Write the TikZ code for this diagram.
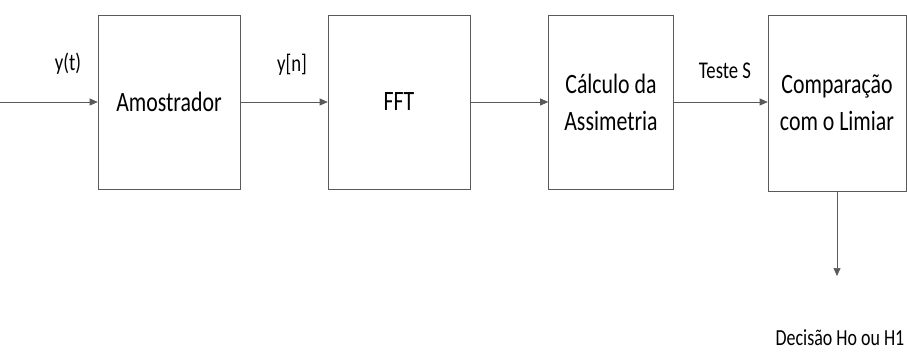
\documentclass[tikz,border=0pt]{standalone}
\usepackage{fontspec}
\setmainfont{Carlito}
\newfontfamily\narrowfont[FakeStretch=0.78]{Carlito}
\usetikzlibrary{arrows.meta, positioning}
\definecolor{linecolor}{RGB}{90,90,90}

\begin{document}
\begin{tikzpicture}[
    x=1pt, y=-1pt,
    block/.style={draw=linecolor, line width=0.6pt, minimum width=142pt, minimum height=174pt, font=\narrowfont\fontsize{28}{37}\selectfont, align=center, inner sep=0pt},
    sig/.style={font=\narrowfont\fontsize{24}{28}\selectfont},
    arrow/.style={-{Triangle[length=8pt, width=7pt]}, linecolor, line width=0.6pt}
]
    % frame
    \useasboundingbox (0,0) rectangle (907,354);

    % blocks
    \node[block] (amo) at (169,102) {Amostrador};
    \node[block] (fft) at (399,102) {FFT};
    \node[block, minimum width=125pt] (calc) at (611,102) {Cálculo da\\Assimetria};
    \node[block, minimum width=138pt, minimum height=176pt] (comp) at (837,103) {Comparação\\com o Limiar};

    % ends of the chain
    \coordinate (in) at (0,102);
    \coordinate (out) at (837,276);

    % connections
    \draw[arrow] (in) -- (amo);
    \draw[arrow] (amo) -- (fft);
    \draw[arrow] (fft) -- (calc);
    \draw[arrow] (calc) -- (comp.west |- calc);
    \draw[arrow] (comp) -- (out);

    % labels
    \node[sig] (yt) at (68,64) {y(t)};
    \node[sig] (yn) at (292,65) {y[n]};
    \node[sig] (teste) at (725,71) {Teste S};
    \node[sig, font=\narrowfont\fontsize{23}{26}\selectfont] (dec) at (840,338) {Decisão Ho ou H1};
\end{tikzpicture}
\end{document}
